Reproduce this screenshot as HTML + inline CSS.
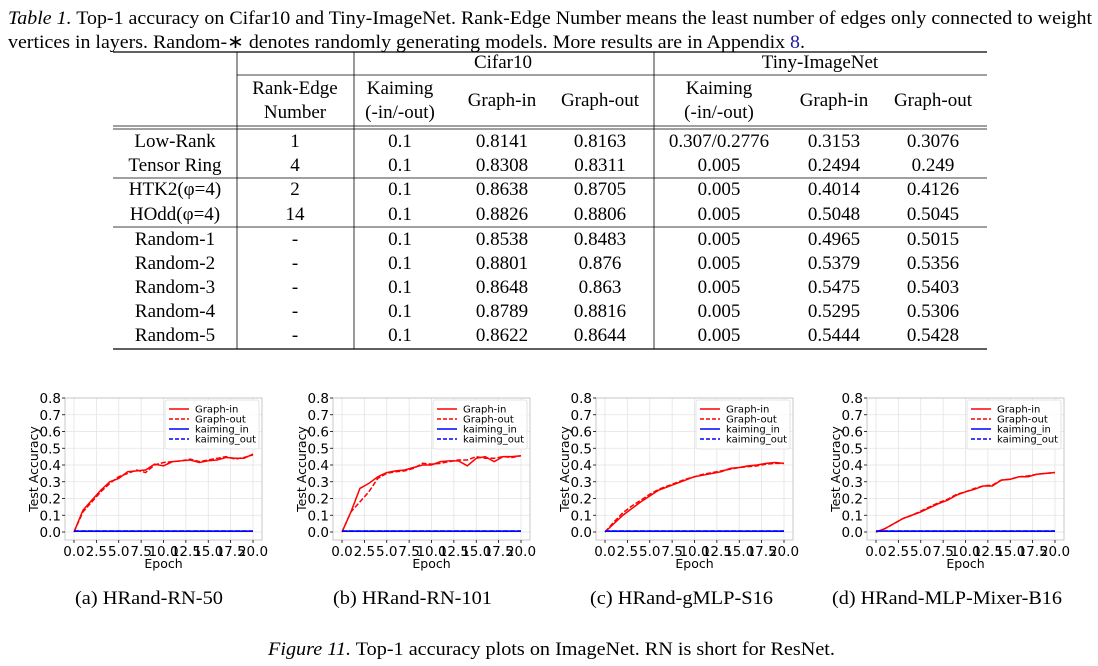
<!DOCTYPE html>
<html><head><meta charset="utf-8"><style>
html,body{margin:0;padding:0;background:#fff;}
svg{display:block;}
.s{font-family:"Liberation Serif",serif;font-size:19px;fill:#000;}
.d{font-family:"DejaVu Sans",sans-serif;fill:#000;}
</style></head><body>
<svg id="g" width="1098" height="666" xmlns="http://www.w3.org/2000/svg">
<text class="s" x="8" y="24" textLength="1084" lengthAdjust="spacingAndGlyphs"><tspan font-style="italic">Table 1.</tspan> Top-1 accuracy on Cifar10 and Tiny-ImageNet. Rank-Edge Number means the least number of edges only connected to weight</text>
<text class="s" x="8" y="48" textLength="797" lengthAdjust="spacingAndGlyphs">vertices in layers. Random-∗ denotes randomly generating models. More results are in Appendix <tspan fill="#1a1aa6">8</tspan>.</text>
</svg>
<script>
const svg=document.getElementById('g');const NS='http://www.w3.org/2000/svg';
function el(t,a,txt){const e=document.createElementNS(NS,t);for(const k in a)e.setAttribute(k,a[k]);if(txt!==undefined)e.textContent=txt;svg.appendChild(e);return e;}
function ln(x1,y1,x2,y2,s,w,extra){const a={x1,y1,x2,y2,stroke:s||'#000','stroke-width':w||1};Object.assign(a,extra||{});return el('line',a);}
function tx(x,y,t,cls,anchor,w){const a={x,y,class:cls||'s','text-anchor':anchor||'middle'};if(w){a.textLength=w;a.lengthAdjust='spacingAndGlyphs';}return el('text',a,t);}
const L=113,R=987;
ln(L,52,R,52,'#000',1.3);
ln(237,75,R,75,'#000',0.8);
ln(L,126,R,126,'#000',0.8);ln(L,129,R,129,'#000',0.8);
ln(L,178,R,178,'#000',0.8);ln(L,227,R,227,'#000',0.8);
ln(L,349,R,349,'#000',1.3);
[237,354,654].forEach(x=>ln(x,52,x,349,'#000',0.8));
tx(503,68,'Cifar10');tx(820,68,'Tiny-ImageNet');
tx(295,94,'Rank-Edge');tx(295,118,'Number');
tx(400,94,'Kaiming');tx(400,118,'(-in/-out)');
tx(502,106,'Graph-in');tx(600,106,'Graph-out');
tx(719,94,'Kaiming');tx(719,118,'(-in/-out)');
tx(834,106,'Graph-in');tx(933,106,'Graph-out');
const rows=[['Low-Rank','1','0.1','0.8141','0.8163','0.307/0.2776','0.3153','0.3076'],
['Tensor Ring','4','0.1','0.8308','0.8311','0.005','0.2494','0.249'],
['HTK2(φ=4)','2','0.1','0.8638','0.8705','0.005','0.4014','0.4126'],
['HOdd(φ=4)','14','0.1','0.8826','0.8806','0.005','0.5048','0.5045'],
['Random-1','-','0.1','0.8538','0.8483','0.005','0.4965','0.5015'],
['Random-2','-','0.1','0.8801','0.876','0.005','0.5379','0.5356'],
['Random-3','-','0.1','0.8648','0.863','0.005','0.5475','0.5403'],
['Random-4','-','0.1','0.8789','0.8816','0.005','0.5295','0.5306'],
['Random-5','-','0.1','0.8622','0.8644','0.005','0.5444','0.5428']];
const ry=[147,171,195,220,245,269,293,317,341];const cx=[175,295,400,502,600,719,834,933];
rows.forEach((r,i)=>r.forEach((c,j)=>tx(cx[j],ry[i],c)));
const data={
a:[[0,0,.13,.19,.25,.3,.32,.36,.365,.37,.405,.395,.42,.425,.43,.415,.425,.43,.445,.44,.44,.465],
   [0,0,.12,.18,.24,.29,.33,.35,.37,.355,.40,.415,.42,.425,.435,.42,.43,.44,.45,.435,.445,.46]],
b:[[0,0,.12,.26,.29,.33,.355,.365,.37,.385,.4,.4,.42,.425,.425,.395,.44,.45,.42,.45,.45,.455],
   [0,0,.12,.18,.24,.32,.35,.36,.365,.38,.41,.405,.41,.42,.43,.43,.45,.44,.44,.45,.445,.455]],
c:[[0,0,.05,.1,.14,.18,.215,.25,.27,.29,.31,.33,.34,.35,.36,.38,.385,.395,.40,.41,.415,.41],
   [0,0,.06,.115,.155,.19,.225,.255,.275,.295,.315,.33,.345,.355,.365,.375,.385,.39,.395,.405,.41,.41]],
d:[[0,0,.02,.05,.08,.1,.12,.145,.17,.19,.22,.24,.255,.275,.275,.31,.315,.33,.33,.345,.35,.355],
   [0,0,.02,.05,.08,.1,.125,.15,.175,.195,.225,.24,.26,.275,.28,.31,.315,.33,.335,.345,.35,.355]]};
const offs={a:0,b:268,c:531,d:802};
for(const k in offs){const o=offs[k];
 const X0=65+o,X1=262+o,Y0=398,Y1=540;
 const fx=e=>74+o+e*(179/20), fy=v=>532-v*(134/0.8);
 for(let i=0;i<=8;i++){const y=fy(i/10);ln(X0,y,X1,y,'#e3e3e3',0.8);}
 for(let i=0;i<=8;i++){const x=fx(i*2.5);ln(x,Y0,x,Y1,'#e3e3e3',0.8);}
 el('rect',{x:X0,y:Y0,width:X1-X0,height:Y1-Y0,fill:'none',stroke:'#bbb','stroke-width':0.8});
 for(let i=0;i<=8;i++){const y=fy(i/10);ln(X0-3,y,X0,y,'#000',0.8);
   const t=tx(X0-4,y+5,(i/10).toFixed(1),'d','end');t.setAttribute('font-size','13.5');}
 for(let i=0;i<=8;i++){const x=fx(i*2.5);ln(x,Y1,x,Y1+3,'#000',0.8);
   const t=tx(x,Y1+16,(i*2.5).toFixed(1),'d','middle');t.setAttribute('font-size','13.5');}
 const t1=tx((X0+X1)/2,Y1+28,'Epoch','d');t1.setAttribute('font-size','12.5');
 el('text',{x:0,y:0,class:'d','text-anchor':'middle','font-size':'12.5',transform:`translate(${X0-27},${(Y0+Y1)/2}) rotate(-90)`},'Test Accuracy');
 const d=data[k];
 const pts=a=>a.slice(1).map((v,i)=>fx(i)+','+fy(v)).join(' ');
 el('polyline',{points:pts(d[1]),fill:'none',stroke:'#f00','stroke-width':1.5,'stroke-dasharray':'5,2'});
 el('polyline',{points:pts(d[0]),fill:'none',stroke:'#f00','stroke-width':1.5});
 ln(fx(0),fy(.005),fx(20),fy(.005),'#00f',1.6);
 ln(fx(0),fy(.006),fx(20),fy(.006),'#00f',1.4,{'stroke-dasharray':'5,2'});
 const lx=X1-97,ly=400;
 el('rect',{x:lx,y:ly,width:94,height:49,fill:'#fff','fill-opacity':0.85,stroke:'#ddd','stroke-width':0.8,rx:2});
 const items=[['Graph-in','#f00',''],['Graph-out','#f00','4,2'],['kaiming_in','#00f',''],['kaiming_out','#00f','4,2']];
 items.forEach((it,i)=>{const y=ly+9+i*10;ln(lx+4,y,lx+24,y,it[1],1.5,it[2]?{'stroke-dasharray':it[2]}:{});
   const t=tx(lx+30,y+3.5,it[0],'d','start');t.setAttribute('font-size','10');});
}
tx(75,604,'(a) HRand-RN-50','s','start',148);
tx(333,604,'(b) HRand-RN-101','s','start',159);
tx(590,604,'(c) HRand-gMLP-S16','s','start',183);
tx(832,604,'(d) HRand-MLP-Mixer-B16','s','start',230);
const fc=tx(268,655,'','s','start',567);
const ts=document.createElementNS(NS,'tspan');ts.setAttribute('font-style','italic');ts.textContent='Figure 11.';fc.appendChild(ts);
fc.appendChild(document.createTextNode(' Top-1 accuracy plots on ImageNet. RN is short for ResNet.'));
</script>
</body></html>
